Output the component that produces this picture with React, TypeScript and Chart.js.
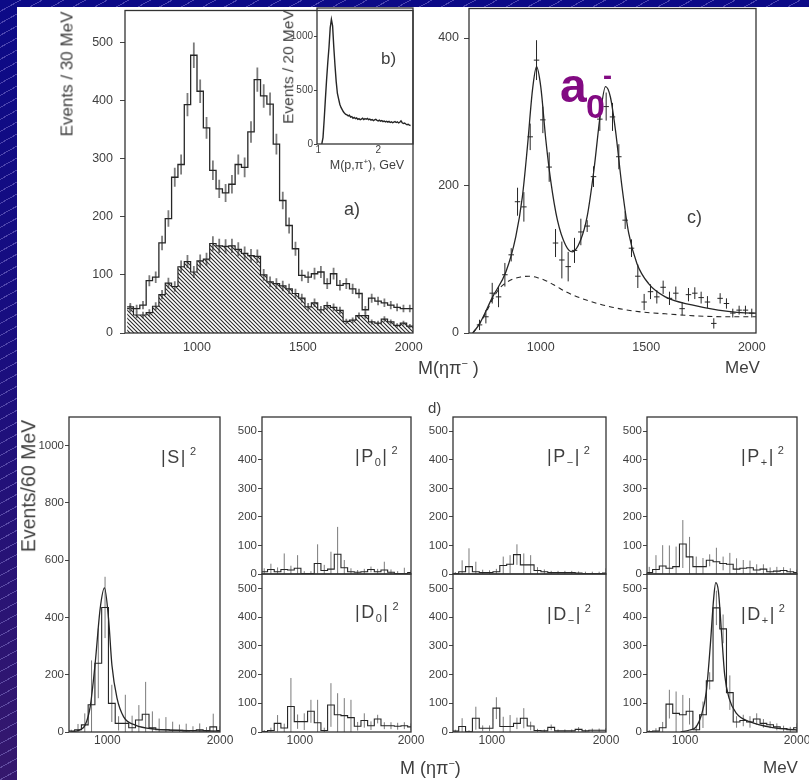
import React, { useEffect, useRef } from "react";
import { Chart, registerables } from "chart.js";

Chart.register(...registerables);

const FONT = "'Liberation Sans', Arial, Helvetica, sans-serif";
const INK = "#262626";
const TEXT = "#3f3f3f";
const ERR = "rgba(100,100,100,0.85)";
Chart.defaults.font.family = FONT;

// ---------- (a) M(eta pi-) spectrum, 30 MeV bins ----------
const aBinStart = 670;
const aBinWidth = 30;
const aAllEvents = [
  45, 42, 48, 90, 96, 155, 197, 268, 290, 393, 478, 416, 353, 280, 248, 241, 256, 290, 285, 346,
  436, 408, 394, 325, 228, 185, 145, 99, 96, 102, 105, 85, 102, 82, 85, 76, 68, 40, 60, 55,
  52, 48, 44, 42, 42,
];
const aBackground = [
  42, 31, 31, 35, 46, 66, 86, 80, 114, 123, 105, 124, 127, 154, 150, 149, 150, 144, 137, 133,
  132, 100, 88, 85, 81, 76, 68, 60, 45, 52, 40, 47, 44, 39, 20, 22, 30, 30, 19, 17,
  24, 19, 13, 17, 12,
];

// ---------- (b) inset: M(p pi+), 20 MeV bins (GeV) ----------
const bBinStart = 1.05;
const bBinWidth = 0.02;
const bEvents = [
  0, 60, 230, 420, 600, 760, 900, 1080, 1160, 1100, 900, 730, 580, 470, 420, 370, 340, 320, 300, 285,
  275, 270, 262, 268, 250, 255, 240, 248, 236, 242, 230, 236, 226, 232, 240, 228, 236, 230, 238, 226,
  232, 222, 228, 218, 224, 230, 220, 215, 222, 212, 218, 208, 214, 206, 212, 204, 210, 200, 206, 198,
  204, 208, 200, 206, 196, 202, 215, 198, 190, 194, 186, 180, 184, 176, 172,
];

// ---------- (c) acceptance-corrected spectrum with fit ----------
const cMass = [
  710, 740, 770, 800, 830, 860, 890, 920, 950, 980, 1010, 1040, 1070, 1100, 1130, 1160, 1190, 1220, 1250, 1280,
  1310, 1340, 1370, 1400, 1430, 1460, 1490, 1520, 1550, 1580, 1610, 1640, 1670, 1700, 1730, 1760, 1790, 1820, 1850, 1880,
  1910, 1940, 1970, 2000,
];
const cEvents = [
  11, 22, 54, 49, 79, 106, 178, 171, 266, 370, 289, 225, 122, 99, 90, 112, 137, 145, 212, 290,
  307, 293, 239, 153, 115, 77, 42, 56, 49, 62, 47, 54, 33, 52, 54, 48, 42, 13, 47, 40,
  27, 31, 31, 27,
];
const cErrors = [
  7, 9, 14, 14, 16, 9, 19, 20, 18, 27, 18, 20, 19, 25, 20, 17, 18, 8, 14, 16,
  19, 19, 17, 12, 12, 16, 11, 10, 9, 9, 9, 9, 9, 9, 8, 8, 8, 7, 7, 7,
  6, 6, 6, 6,
];
const cFitMass = [
  678, 709, 772, 835, 882, 913, 937, 961, 980, 1000, 1024, 1047, 1079, 1118, 1150, 1189, 1220, 1252, 1283, 1307,
  1330, 1354, 1385, 1417, 1456, 1511, 1590, 1716, 1841, 1999, 2020,
];
const cFitValue = [
  0, 12, 49, 83, 131, 185, 253, 330, 361, 334, 262, 207, 153, 119, 110, 126, 158, 221, 298, 334,
  320, 275, 198, 135, 94, 67, 49, 38, 31, 27, 27,
];
const cBgMass = [678, 709, 741, 772, 803, 835, 866, 905, 945, 985, 1024, 1070, 1118, 1212, 1338, 1464, 1590, 1747, 1904, 2020];
const cBgValue = [0, 12, 28, 46, 60, 68, 73, 76, 77, 75, 71, 64, 56, 45, 35, 29, 26, 23, 22, 22];

// ---------- (d) partial-wave intensities, 60 MeV bins ----------
const dBinStart = 650;
const dBinWidth = 60;
const waveS = [3, 8, 25, 95, 240, 435, 100, 30, 30, 15, 42, 62, 15, 8, 8, 6, 6, 4, 5, 8, 5, 18, 5];
const waveSErr = [5, 20, 40, 155, 122, 107, 65, 25, 100, 42, 52, 113, 57, 39, 44, 30, 20, 25, 15, 22, 12, 46, 15];
const fitSMass = [680, 720, 760, 803, 848, 892, 937, 975, 1011, 1041, 1086, 1145, 1249, 1428, 1726, 2000];
const fitSValue = [0, 3, 8, 24, 88, 239, 432, 503, 396, 233, 118, 53, 24, 10, 5, 3];

const waveP0 = [8, 16, 8, 16, 14, 20, 2, 2, 37, 12, 17, 69, 22, 8, 6, 8, 16, 8, 14, 6, 2, 2, 5];
const waveP0Err = [12, 20, 15, 56, 15, 46, 8, 8, 67, 20, 61, 96, 27, 12, 8, 10, 10, 10, 29, 10, 8, 20, 8];
const waveD0 = [2, 5, 30, 14, 89, 36, 36, 72, 32, 5, 94, 60, 57, 50, 20, 40, 22, 45, 22, 22, 20, 22, 18];
const waveD0Err = [5, 10, 29, 15, 99, 25, 29, 40, 80, 10, 76, 75, 61, 62, 15, 25, 15, 15, 12, 12, 12, 12, 12];

const wavePm = [2, 8, 26, 8, 5, 5, 8, 30, 34, 68, 32, 32, 12, 8, 5, 5, 5, 5, 3, 2, 2, 2, 3];
const wavePmErr = [5, 40, 64, 35, 10, 8, 10, 31, 32, 36, 40, 34, 12, 8, 6, 6, 6, 6, 6, 6, 6, 6, 17];
const waveDm = [3, 19, 1, 48, 13, 13, 83, 19, 19, 30, 48, 21, 5, 4, 16, 4, 4, 4, 9, 4, 6, 6, 6];
const waveDmErr = [5, 29, 5, 40, 10, 10, 38, 34, 40, 20, 35, 15, 6, 5, 10, 5, 5, 5, 8, 5, 6, 6, 8];

const wavePp = [5, 16, 28, 20, 26, 105, 60, 26, 26, 48, 43, 37, 34, 17, 20, 22, 14, 17, 8, 10, 12, 8, 5];
const wavePpErr = [20, 50, 73, 80, 70, 84, 70, 35, 30, 21, 49, 24, 40, 38, 29, 25, 20, 17, 15, 15, 12, 12, 10];
const waveDp = [2, 3, 15, 97, 65, 60, 72, 8, 60, 178, 432, 359, 137, 35, 40, 35, 45, 30, 25, 18, 12, 8, 15];
const waveDpErr = [5, 10, 20, 50, 76, 69, 46, 15, 46, 30, 60, 50, 60, 20, 20, 20, 20, 15, 12, 12, 10, 10, 15];
const fitDpMass = [960, 1041, 1101, 1146, 1190, 1226, 1256, 1274, 1298, 1325, 1354, 1393, 1459, 1577, 1786, 2000];
const fitDpValue = [0, 7, 19, 59, 141, 304, 467, 520, 490, 350, 199, 118, 65, 36, 15, 7];

// ---------- helpers that turn the arrays into chart points ----------
const centers = (start: number, width: number, n: number) =>
  Array.from({ length: n }, (_, i) => start + width * (i + 0.5));
const stepPoints = (start: number, width: number, vals: number[]) => [
  ...vals.map((v, i) => ({ x: start + i * width, y: v })),
  { x: start + vals.length * width, y: vals[vals.length - 1] },
];
const vBars = (xs: number[], ys: number[], es: number[]) =>
  xs.flatMap((x, i) => [
    { x, y: ys[i] - es[i] },
    { x, y: ys[i] + es[i] },
    { x, y: null },
  ]);
const hBars = (xs: number[], ys: number[], half: number) =>
  xs.flatMap((x, i) => [
    { x: x - half, y: ys[i] },
    { x: x + half, y: ys[i] },
    { x: x + half, y: null },
  ]);
const curve = (xs: number[], ys: number[]) => xs.map((x, i) => ({ x, y: ys[i] }));

const stepDs = (data: any[], width = 1.2, extra: any = {}) => ({
  data, stepped: true, borderColor: INK, borderWidth: width, pointRadius: 0, fill: false, ...extra,
});
const segDs = (data: any[], color = ERR, width = 1) => ({
  data, borderColor: color, borderWidth: width, pointRadius: 0, fill: false, spanGaps: false,
});
const smoothDs = (data: any[], width = 1.3, dash: number[] = []) => ({
  data, borderColor: INK, borderWidth: width, pointRadius: 0, fill: false,
  tension: 0.4, cubicInterpolationMode: "monotone", borderDash: dash,
});

function makeHatch(): CanvasPattern | null {
  const c = document.createElement("canvas");
  c.width = 4;
  c.height = 4;
  const g = c.getContext("2d");
  if (!g) return null;
  g.strokeStyle = "#2a2a2a";
  g.lineWidth = 1.1;
  g.beginPath();
  g.moveTo(-1, -1); g.lineTo(5, 5);
  g.moveTo(3, -1); g.lineTo(5, 1);
  g.moveTo(-1, 3); g.lineTo(1, 5);
  g.stroke();
  return g.createPattern(c, "repeat");
}

const framePlugin = {
  id: "frame",
  afterDatasetsDraw(chart: any) {
    const { ctx, chartArea: a } = chart;
    ctx.save();
    ctx.strokeStyle = "#333";
    ctx.lineWidth = 1.3;
    ctx.strokeRect(a.left, a.top, a.right - a.left, a.bottom - a.top);
    ctx.restore();
  },
};

const PAD_L = 52;
const PAD_T = 12;
const PAD_R = 22;

type Spec = {
  box: { l: number; t: number; w: number; h: number };
  x: [number, number];
  y: [number, number];
  xTicks: number[];
  xLabels: boolean;
  yTicks: number[];
  font: number;
  xFont?: number;
  yTickLen: number;
  yPad: number;
  xPad: number;
  padB: number;
  datasets: (hatch: CanvasPattern | null) => any[];
};

function Plot({ spec }: { spec: Spec }) {
  const ref = useRef<HTMLCanvasElement>(null);
  useEffect(() => {
    const canvas = ref.current;
    if (!canvas) return;
    const hatch = makeHatch();
    const chart = new Chart(canvas, {
      type: "line",
      data: { datasets: spec.datasets(hatch) },
      options: {
        responsive: false,
        animation: false,
        events: [],
        layout: { padding: { top: PAD_T, right: PAD_R, left: 0, bottom: 0 } },
        plugins: { legend: { display: false }, tooltip: { enabled: false } },
        scales: {
          x: {
            type: "linear",
            min: spec.x[0],
            max: spec.x[1],
            afterFit: (s: any) => { s.height = spec.padB; },
            afterBuildTicks: (s: any) => { s.ticks = spec.xTicks.map((value) => ({ value })); },
            ticks: {
              display: spec.xLabels,
              autoSkip: false,
              maxRotation: 0,
              padding: spec.xPad,
              color: TEXT,
              font: { size: spec.xFont ?? spec.font, family: FONT },
              callback: (v: any) => String(v),
            },
            grid: { display: true, drawOnChartArea: false, drawTicks: false, color: INK },
            border: { display: false },
          },
          y: {
            type: "linear",
            min: spec.y[0],
            max: spec.y[1],
            afterFit: (s: any) => { s.width = PAD_L; },
            afterBuildTicks: (s: any) => { s.ticks = spec.yTicks.map((value) => ({ value })); },
            ticks: {
              padding: spec.yPad,
              color: TEXT,
              font: { size: spec.font, family: FONT },
              callback: (v: any) => String(v),
            },
            grid: {
              display: true, drawOnChartArea: false, drawTicks: true,
              tickLength: spec.yTickLen, color: "#444", lineWidth: 1,
            },
            border: { display: false },
          },
        },
      } as any,
      plugins: [framePlugin],
    });
    return () => chart.destroy();
  }, []);
  const { l, t, w, h } = spec.box;
  const W = w + PAD_L + PAD_R;
  const H = h + PAD_T + spec.padB;
  return (
    <canvas
      ref={ref}
      width={W}
      height={H}
      style={{ position: "absolute", left: l - PAD_L, top: t - PAD_T, width: W, height: H }}
    />
  );
}

// ---------- panel definitions ----------
const aCenters = centers(aBinStart, aBinWidth, aAllEvents.length);
const bCenters = centers(bBinStart, bBinWidth, bEvents.length);
const dCenters = centers(dBinStart, dBinWidth, waveS.length);
const massTicks = [1000, 1500, 2000];
const waveTicks = [0, 100, 200, 300, 400, 500];

const wavePanel = (
  l: number, t: number, w: number, h: number, vals: number[], errs: number[], bottom: boolean,
  fit?: { m: number[]; v: number[] },
): Spec => ({
  box: { l, t, w, h },
  x: [660, 2000],
  y: [0, 550],
  xTicks: [1000, 2000],
  xLabels: bottom,
  yTicks: waveTicks,
  font: 11.5,
  xFont: 12,
  yTickLen: 4,
  yPad: 1,
  xPad: 1,
  padB: bottom ? 24 : 10,
  datasets: () => [
    ...(fit ? [smoothDs(curve(fit.m, fit.v), 1.3)] : []),
    stepDs(stepPoints(dBinStart, dBinWidth, vals), 1.1),
    segDs(vBars(dCenters, vals, errs), ERR, 1),
  ],
});

const specs: Spec[] = [
  {
    box: { l: 125, t: 8, w: 288, h: 325 },
    x: [660, 2020],
    y: [0, 555],
    xTicks: massTicks,
    xLabels: true,
    yTicks: [0, 100, 200, 300, 400, 500],
    font: 12.5,
    yTickLen: 5,
    yPad: 7,
    xPad: 7,
    padB: 26,
    datasets: (hatch) => [
      stepDs(stepPoints(aBinStart, aBinWidth, aAllEvents), 1.3),
      segDs(vBars(aCenters, aAllEvents, aAllEvents.map(Math.sqrt)), ERR, 1.8),
      stepDs(stepPoints(aBinStart, aBinWidth, aBackground), 1.2, { fill: "origin", backgroundColor: hatch ?? "#999" }),
      segDs(vBars(aCenters, aBackground, aBackground.map(Math.sqrt)), ERR, 1.8),
    ],
  },
  {
    box: { l: 317, t: 8, w: 96, h: 136 },
    x: [0.98, 2.58],
    y: [0, 1265],
    xTicks: [1, 2],
    xLabels: true,
    yTicks: [0, 500, 1000],
    font: 10,
    yTickLen: 3,
    yPad: 1,
    xPad: 0,
    padB: 14,
    datasets: () => [segDs(curve(bCenters, bEvents), INK, 1.4)],
  },
  {
    box: { l: 469, t: 8, w: 287, h: 325 },
    x: [660, 2020],
    y: [0, 440],
    xTicks: massTicks,
    xLabels: true,
    yTicks: [0, 200, 400],
    font: 12.5,
    yTickLen: 5,
    yPad: 5,
    xPad: 7,
    padB: 26,
    datasets: () => [
      smoothDs(curve(cFitMass, cFitValue), 1.3),
      smoothDs(curve(cBgMass, cBgValue), 1.1, [5, 4]),
      segDs(vBars(cMass, cEvents, cErrors), INK, 1),
      segDs(hBars(cMass, cEvents, 13), INK, 1),
    ],
  },
  {
    box: { l: 69, t: 417, w: 151, h: 315 },
    x: [660, 2000],
    y: [0, 1100],
    xTicks: [1000, 2000],
    xLabels: true,
    yTicks: [0, 200, 400, 600, 800, 1000],
    font: 11.5,
    xFont: 12,
    yTickLen: 4,
    yPad: 1,
    xPad: 1,
    padB: 24,
    datasets: () => [
      smoothDs(curve(fitSMass, fitSValue), 1.3),
      stepDs(stepPoints(dBinStart, dBinWidth, waveS), 1.1),
      segDs(vBars(dCenters, waveS, waveSErr), ERR, 1),
    ],
  },
  wavePanel(262, 417, 149, 157, waveP0, waveP0Err, false),
  wavePanel(262, 574, 149, 158, waveD0, waveD0Err, true),
  wavePanel(453, 417, 153, 157, wavePm, wavePmErr, false),
  wavePanel(453, 574, 153, 158, waveDm, waveDmErr, true),
  wavePanel(647, 417, 150, 157, wavePp, wavePpErr, false),
  wavePanel(647, 574, 150, 158, waveDp, waveDpErr, true, { m: fitDpMass, v: fitDpValue }),
];

// ---------- text ----------
function Txt(props: {
  x: number; y: number; size: number; children: any; rotate?: boolean; center?: boolean;
  color?: string; weight?: number;
}) {
  const style: any = {
    position: "absolute",
    left: props.x,
    top: props.y,
    fontFamily: FONT,
    fontSize: props.size,
    fontWeight: props.weight ?? 400,
    color: props.color ?? TEXT,
    lineHeight: 1,
    whiteSpace: "nowrap",
  };
  if (props.rotate) style.transform = "translate(-50%, -50%) rotate(-90deg)";
  else if (props.center) style.transform = "translate(-50%, -50%)";
  return <div style={style}>{props.children}</div>;
}

function Wave({ x, y, letter, sub }: { x: number; y: number; letter: string; sub?: string }) {
  return (
    <div
      style={{
        position: "absolute", left: x, top: y, fontFamily: FONT, fontSize: 18, color: TEXT,
        lineHeight: 1, whiteSpace: "nowrap", letterSpacing: 1.5,
      }}
    >
      |{letter}
      {sub ? <span style={{ fontSize: 11, verticalAlign: -4 }}>{sub}</span> : null}|
      <span style={{ fontSize: 11, verticalAlign: 8, marginLeft: 3 }}>2</span>
    </div>
  );
}

const PURPLE = "#820a82";

export default function App() {
  return (
    <div
      style={{
        position: "absolute",
        left: 0,
        top: 0,
        width: 809,
        height: 780,
        overflow: "hidden",
        background:
          "repeating-linear-gradient(151deg, rgba(160,150,230,0) 0px, rgba(160,150,230,0) 9.5px, rgba(160,150,230,0.42) 9.5px, rgba(160,150,230,0.42) 10.5px), linear-gradient(180deg, #0c0a87 0%, #170d80 40%, #35186d 100%)",
      }}
    >
      <div style={{ position: "absolute", left: 17, top: 7, width: 792, height: 773, background: "#ffffff" }} />
      {specs.map((s, i) => (
        <Plot key={i} spec={s} />
      ))}

      <Txt x={66.5} y={74} size={17} rotate>Events / 30 MeV</Txt>
      <Txt x={288} y={67} size={15.5} rotate>Events / 20 MeV</Txt>
      <Txt x={381} y={50} size={17}>b)</Txt>
      <Txt x={367} y={165} size={12.5} center>
        M(p,π<sup style={{ fontSize: 8 }}>+</sup>), GeV
      </Txt>
      <Txt x={344} y={200} size={18}>a)</Txt>
      <Txt x={687} y={208} size={18}>c)</Txt>

      <Txt x={560} y={62} size={48} weight={700} color={PURPLE}>a</Txt>
      <Txt x={586} y={89} size={34} weight={700} color={PURPLE}>0</Txt>
      <Txt x={603} y={63} size={27} weight={700} color={PURPLE}>-</Txt>

      <Txt x={418} y={358} size={18}>
        M(ηπ<sup style={{ fontSize: 11 }}>−</sup> )
      </Txt>
      <Txt x={725} y={359} size={17}>MeV</Txt>

      <Txt x={428} y={400} size={15}>d)</Txt>
      <Txt x={28.5} y={486} size={19.5} rotate>Events/60 MeV</Txt>

      <Wave x={161} y={446} letter="S" />
      <Wave x={355} y={445} letter="P" sub="0" />
      <Wave x={355} y={601} letter="D" sub="0" />
      <Wave x={547} y={445} letter="P" sub="−" />
      <Wave x={547} y={603} letter="D" sub="−" />
      <Wave x={741} y={445} letter="P" sub="+" />
      <Wave x={741} y={603} letter="D" sub="+" />

      <Txt x={400} y={758} size={18}>
        M (ηπ<sup style={{ fontSize: 11 }}>−</sup>)
      </Txt>
      <Txt x={763} y={759} size={17}>MeV</Txt>
    </div>
  );
}
